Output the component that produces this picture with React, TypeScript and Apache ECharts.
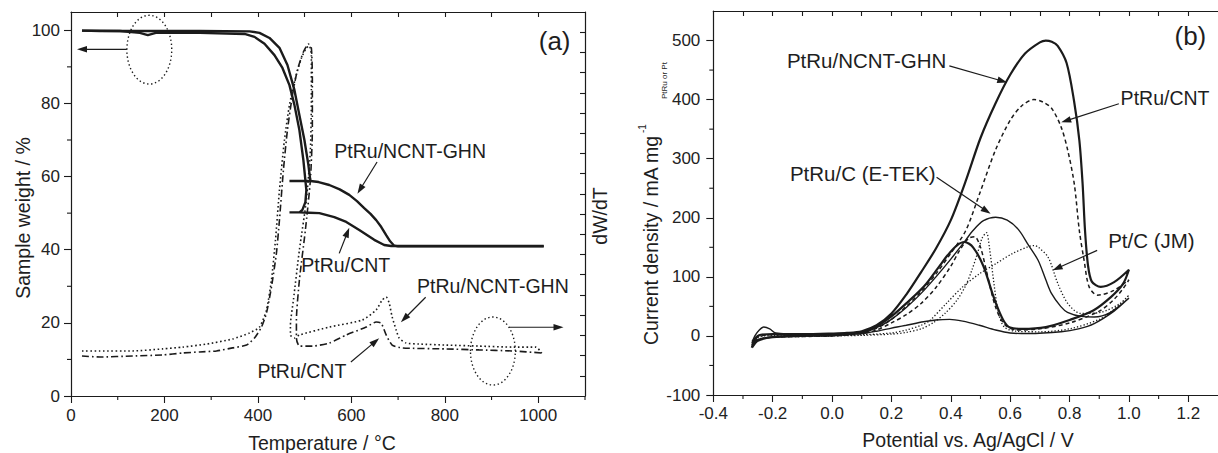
import React, { useEffect, useRef } from 'react';
import * as echarts from 'echarts';

// ---------- Panel (a): TGA (weight %) vs temperature (°C) ----------
const tgaGhnT = [23.5, 61.9, 168.6, 275.3, 382, 403.4, 424.8, 446.1, 463.2, 478.1, 488.8, 499.5, 508, 512.3, 467.5, 512.3, 530, 552.8, 575, 595.5, 612, 627.5, 641, 653.1, 664, 674.5, 683, 691.6, 700, 1011.7];
const tgaGhnW = [99.9, 99.8, 99.8, 99.8, 99.7, 99.3, 97.9, 95.2, 90.5, 83.7, 76.8, 70, 63.2, 58.8, 58.8, 58.8, 58.5, 57.7, 56.5, 55, 53.3, 51.4, 49.8, 48.1, 46.2, 44, 42.3, 41.1, 40.9, 40.9];
const tgaCntT = [23.5, 104.6, 147.3, 164.4, 181.4, 275.3, 371.4, 392.7, 414.1, 435.4, 452.5, 467.5, 478.1, 488.8, 497.3, 503.7, 501.6, 495.2, 488.8, 467.5, 488.8, 510, 531.5, 563.5, 589.1, 616.9, 648.9, 670.2, 685.2, 1011.7];
const tgaCntW = [99.9, 99.8, 99.3, 98.7, 99.3, 99.3, 99, 98.2, 96.3, 93.2, 89.7, 85, 79.6, 72.7, 64.5, 56.3, 53, 50.9, 50.2, 50.2, 50.2, 50.1, 50, 48.9, 47.6, 45.4, 42.7, 41.3, 41, 41];

// DTG (dW/dT, arbitrary units on right axis 0..19)
const dtgCntT = [23.5, 61.9, 132.3, 196.4, 239.1, 275.3, 311.6, 345.8, 375.7, 392.7, 407.7, 418.4, 429, 439.7, 446.1, 454.6, 463.2, 473.9, 484.5, 497.3, 508, 514.4, 516.5, 516.5, 512.3, 501.6, 488.8, 482.4, 482.4, 488.8, 516.5, 552.8, 589.1, 631.8, 653.1, 663.8, 674.5, 687.3, 708.6, 802.6, 872.9, 943.4, 1007.5];
const dtgCntV = [1.98, 1.93, 1.98, 2.03, 2.13, 2.18, 2.23, 2.38, 2.52, 2.87, 3.41, 4.11, 5.39, 7.08, 8.71, 11.18, 13.16, 14.89, 16.13, 17.02, 17.42, 17.22, 15.64, 13.16, 10.69, 8.21, 5.74, 3.76, 2.87, 2.47, 2.47, 2.62, 3.02, 3.41, 3.66, 3.61, 3.02, 2.52, 2.38, 2.33, 2.28, 2.23, 2.13];
const dtgGhnT = [23.5, 61.9, 132.3, 196.4, 239.1, 290.3, 345.8, 382.1, 403.4, 418.4, 429, 437.6, 446.1, 456.8, 467.5, 480.3, 493.1, 503.7, 510.1, 514.4, 514.4, 512.3, 503.7, 488.8, 476, 469.6, 469.6, 478.1, 488.8, 552.8, 623.3, 653.1, 665.9, 674.5, 680.9, 687.3, 695.8, 702.2, 717.2, 744.9, 802.6, 872.9, 943.4, 994.7, 1007.5];
const dtgGhnV = [2.23, 2.23, 2.23, 2.33, 2.42, 2.57, 2.82, 3.12, 3.41, 4.26, 5.74, 7.72, 10.19, 12.67, 14.4, 15.73, 16.72, 17.22, 17.32, 16.87, 14.65, 12.17, 9.7, 7.22, 4.75, 3.51, 3.02, 2.87, 3.02, 3.41, 3.76, 4.26, 4.75, 4.9, 4.6, 3.91, 3.27, 2.87, 2.62, 2.57, 2.52, 2.47, 2.42, 2.42, 2.13];

// ---------- Panel (b): CV current density vs potential ----------
const ghnE = [-0.27, -0.26, -0.24, -0.2, -0.1, 0.0, 0.05, 0.1, 0.15, 0.2, 0.25, 0.3, 0.35, 0.4, 0.45, 0.5, 0.55, 0.6, 0.65, 0.7, 0.72, 0.74, 0.76, 0.79, 0.815, 0.833, 0.844, 0.852, 0.862, 0.875, 0.905, 0.95, 1.0, 0.98, 0.94, 0.88, 0.8, 0.72, 0.64, 0.6, 0.58, 0.56, 0.54, 0.51, 0.475, 0.446, 0.42, 0.39, 0.36, 0.31, 0.25, 0.2, 0.15, 0.1, 0.0, -0.1, -0.2, -0.25, -0.27];
const ghnI = [-20, -5, 2, 3, 3, 4, 5, 8, 18, 38, 70, 108, 148, 196, 262, 335, 393, 442, 478, 497, 500, 498, 491, 462, 398, 331, 257, 179, 120, 92, 83, 91, 112, 88, 66, 43, 27, 15, 12, 14, 24, 45, 72, 118, 150, 159, 153, 137, 117, 84, 55, 33, 16, 6, 1, 0, -2, -8, -20];
const cntE = [-0.27, -0.25, -0.2, -0.1, 0, 0.1, 0.15, 0.2, 0.25, 0.3, 0.35, 0.4, 0.45, 0.5, 0.55, 0.6, 0.64, 0.68, 0.71, 0.74, 0.772, 0.794, 0.816, 0.833, 0.849, 0.866, 0.894, 0.949, 1.0, 0.98, 0.95, 0.9, 0.8, 0.7, 0.62, 0.58, 0.55, 0.52, 0.5, 0.48, 0.46, 0.43, 0.4, 0.35, 0.3, 0.25, 0.2, 0.15, 0.1, 0, -0.1, -0.2, -0.25, -0.27];
const cntI = [-15, -2, 2, 2, 3, 6, 13, 28, 50, 75, 105, 140, 178, 245, 314, 365, 390, 400, 396, 385, 353, 314, 257, 178, 128, 83, 69, 77, 95, 80, 62, 42, 22, 12, 10, 20, 50, 110, 150, 168, 165, 145, 118, 82, 55, 36, 22, 10, 4, 0, -1, -2, -6, -15];
const etekE = [-0.27, -0.26, -0.245, -0.23, -0.21, -0.19, -0.1, 0, 0.1, 0.15, 0.2, 0.25, 0.3, 0.35, 0.4, 0.45, 0.474, 0.51, 0.551, 0.59, 0.628, 0.66, 0.694, 0.72, 0.739, 0.77, 0.793, 0.84, 0.883, 0.938, 1.0, 0.95, 0.883, 0.83, 0.772, 0.66, 0.6, 0.551, 0.496, 0.44, 0.396, 0.35, 0.308, 0.25, 0.219, 0.15, 0.1, 0, -0.1, -0.2, -0.25, -0.27];
const etekI = [-12, 0, 10, 15, 12, 5, 3, 3, 6, 14, 28, 48, 72, 100, 130, 162, 178, 195, 201, 196, 180, 155, 128, 95, 72, 50, 40, 33, 32, 40, 64, 42, 21, 12, 7, 4, 5, 10, 18, 25, 28, 27, 24, 18, 15, 8, 4, 1, 0, -2, -6, -12];
const jmE = [-0.27, -0.25, -0.2, -0.1, 0, 0.1, 0.2, 0.25, 0.3, 0.329, 0.385, 0.44, 0.496, 0.551, 0.606, 0.661, 0.68, 0.695, 0.728, 0.761, 0.794, 0.838, 0.905, 0.971, 1.0, 0.95, 0.9, 0.8, 0.7, 0.62, 0.58, 0.56, 0.545, 0.53, 0.52, 0.505, 0.49, 0.47, 0.45, 0.42, 0.38, 0.34, 0.3, 0.25, 0.2, 0.1, 0, -0.1, -0.2, -0.27];
const jmI = [-8, -2, 1, 1, 1, 2, 5, 10, 18, 26, 55, 83, 105, 122, 139, 151, 153, 150, 133, 88, 55, 38, 40, 55, 69, 45, 28, 12, 7, 8, 15, 40, 90, 150, 175, 165, 140, 110, 85, 60, 38, 22, 12, 6, 3, 1, 0, -1, -2, -8];

// tick values
const aXMajor = [0, 200, 400, 600, 800, 1000];
const aXMinor = [100, 300, 500, 700, 900, 1100];
const aXTop = [100, 200, 300, 400, 500, 600, 700, 800, 900, 1000];
const aYMajor = [0, 20, 40, 60, 80, 100];
const aYMinor = [10, 30, 50, 70, 90];
const aYRight = [1, 2, 3, 4, 5, 6, 7, 8, 9, 10, 11, 12, 13, 14, 15, 16, 17, 18];
const bXMajor = [-0.4, -0.2, 0.0, 0.2, 0.4, 0.6, 0.8, 1.0, 1.2];
const bXMinor = [-0.3, -0.1, 0.1, 0.3, 0.5, 0.7, 0.9, 1.1];
const bXTop = [-0.3, -0.2, -0.1, 0.0, 0.1, 0.2, 0.3, 0.4, 0.5, 0.6, 0.7, 0.8, 0.9, 1.0, 1.1, 1.2];
const bYMajor = [-100, 0, 100, 200, 300, 400, 500];
const bYMinor = [-50, 50, 150, 250, 350, 450];

// annotations (data coordinates of each panel)
const annotA = {
  texts: [
    { t: 'PtRu/NCNT-GHN', x: 563.5, y: 67 },
    { t: 'PtRu/CNT', x: 493, y: 35.7 },
    { t: 'PtRu/NCNT-GHN', x: 740.7, y: 30.2 },
    { t: 'PtRu/CNT', x: 399, y: 6.9 },
  ],
  arrows: [
    [119.5, 94.8, 12.8, 94.8],
    [937, 18.8, 1054, 18.8],
    [655, 64, 613, 55.3],
    [574, 39, 595.5, 46],
    [759, 27, 706, 20.2],
    [599, 9.3, 659.5, 15.8],
  ],
  ellipses: [
    [167.6, 94.7, 48, 9.4],
    [902.9, 12.3, 48, 9.3],
  ],
};
const annotB = {
  texts: [
    { t: 'PtRu/NCNT-GHN', x: -0.152, y: 466, s: 20.5 },
    { t: 'PtRu/CNT', x: 0.972, y: 403, s: 19.5 },
    { t: 'PtRu/C (E-TEK)', x: -0.142, y: 275, s: 20.5 },
    { t: 'Pt/C (JM)', x: 0.93, y: 161.6, s: 20.5 },
  ],
  arrows: [
    [0.395, 457, 0.59, 429],
    [0.966, 393, 0.772, 361.5],
    [0.352, 268.6, 0.534, 206.8],
    [0.893, 144.8, 0.743, 111],
  ],
};

const FONT = '"Liberation Sans", Arial, Helvetica, sans-serif';
const INK = '#1b1b1b';

const zip = (xs: number[], ys: number[]) => xs.slice(0, Math.min(xs.length, ys.length)).map((x, i) => [x, ys[i]]);

function valAxis(extra: any) {
  return {
    type: 'value',
    splitLine: { show: false },
    axisLine: { show: true, onZero: false, lineStyle: { color: INK, width: 1.2 } },
    axisTick: { show: true, lineStyle: { color: INK, width: 1.1 } },
    axisLabel: { show: false, color: '#222', fontSize: 17, fontFamily: FONT },
    ...extra,
  };
}

function fmt1(v: number) {
  const r = Math.abs(v) < 1e-9 ? 0 : v;
  return r.toFixed(1);
}

const option: any = {
  animation: false,
  backgroundColor: '#ffffff',
  textStyle: { fontFamily: FONT },
  grid: [
    { left: 71, top: 12, width: 514, height: 384 },
    { left: 713.3, top: 11, width: 512.6, height: 384 },
  ],
  xAxis: [
    valAxis({ gridIndex: 0, position: 'bottom', min: 0, max: 1100,
      axisTick: { show: true, length: 7, customValues: aXMajor, lineStyle: { color: INK, width: 1.1 } },
      axisLabel: { show: true, margin: 11, customValues: aXMajor, formatter: (v: number) => String(v), color: '#222', fontSize: 17, fontFamily: FONT } }),
    valAxis({ gridIndex: 0, position: 'top', min: 0, max: 1100,
      axisTick: { show: true, inside: true, length: 5, customValues: aXTop, lineStyle: { color: INK, width: 1.1 } } }),
    valAxis({ gridIndex: 1, position: 'bottom', min: -0.4, max: 1.3,
      axisTick: { show: true, length: 7, customValues: bXMajor, lineStyle: { color: INK, width: 1.1 } },
      axisLabel: { show: true, margin: 10, customValues: bXMajor, formatter: fmt1, color: '#222', fontSize: 17, fontFamily: FONT } }),
    valAxis({ gridIndex: 1, position: 'top', min: -0.4, max: 1.3,
      axisTick: { show: true, inside: true, length: 5, customValues: bXTop, lineStyle: { color: INK, width: 1.1 } } }),
  ],
  yAxis: [
    valAxis({ gridIndex: 0, position: 'left', min: 0, max: 105,
      axisTick: { show: true, length: 7, customValues: aYMajor, lineStyle: { color: INK, width: 1.1 } },
      axisLabel: { show: true, margin: 11, customValues: aYMajor, formatter: (v: number) => String(v), color: '#222', fontSize: 17, fontFamily: FONT } }),
    valAxis({ gridIndex: 0, position: 'right', min: 0, max: 19,
      axisTick: { show: true, inside: true, length: 5, customValues: aYRight, lineStyle: { color: INK, width: 1.1 } } }),
    valAxis({ gridIndex: 1, position: 'left', min: -100, max: 550,
      axisTick: { show: true, length: 7, customValues: bYMajor, lineStyle: { color: INK, width: 1.1 } },
      axisLabel: { show: true, margin: 13, customValues: bYMajor, formatter: (v: number) => String(v), color: '#222', fontSize: 17, fontFamily: FONT } }),
  ],
  series: [
    { name: 'TGA PtRu/NCNT-GHN', type: 'line', xAxisIndex: 0, yAxisIndex: 0, data: zip(tgaGhnT, tgaGhnW),
      showSymbol: false, symbol: 'none', lineStyle: { color: INK, width: 2.4 } },
    { name: 'TGA PtRu/CNT', type: 'line', xAxisIndex: 0, yAxisIndex: 0, data: zip(tgaCntT, tgaCntW),
      showSymbol: false, symbol: 'none', lineStyle: { color: INK, width: 2.4 } },
    { name: 'DTG PtRu/NCNT-GHN', type: 'line', xAxisIndex: 0, yAxisIndex: 1, data: zip(dtgGhnT, dtgGhnV), smooth: 0.2,
      showSymbol: false, symbol: 'none', lineStyle: { color: INK, width: 1.6, type: [1.6, 2.6] } },
    { name: 'DTG PtRu/CNT', type: 'line', xAxisIndex: 0, yAxisIndex: 1, data: zip(dtgCntT, dtgCntV), smooth: 0.2,
      showSymbol: false, symbol: 'none', lineStyle: { color: INK, width: 1.6, type: [7, 3, 1.6, 3] } },
    { name: 'PtRu/NCNT-GHN', type: 'line', xAxisIndex: 2, yAxisIndex: 2, data: zip(ghnE, ghnI), smooth: 0.3,
      showSymbol: false, symbol: 'none', lineStyle: { color: INK, width: 2.2 } },
    { name: 'PtRu/CNT', type: 'line', xAxisIndex: 2, yAxisIndex: 2, data: zip(cntE, cntI), smooth: 0.3,
      showSymbol: false, symbol: 'none', lineStyle: { color: INK, width: 1.5, type: [4, 3] } },
    { name: 'PtRu/C (E-TEK)', type: 'line', xAxisIndex: 2, yAxisIndex: 2, data: zip(etekE, etekI), smooth: 0.3,
      showSymbol: false, symbol: 'none', lineStyle: { color: INK, width: 1.4 } },
    { name: 'Pt/C (JM)', type: 'line', xAxisIndex: 2, yAxisIndex: 2, data: zip(jmE, jmI), smooth: 0.3,
      showSymbol: false, symbol: 'none', lineStyle: { color: INK, width: 1.3, type: [1.3, 2] } },
  ],
};

function arrowEls(p1: number[], p2: number[]) {
  const dx = p2[0] - p1[0];
  const dy = p2[1] - p1[1];
  const L = Math.hypot(dx, dy) || 1;
  const ux = dx / L;
  const uy = dy / L;
  const hl = 10;
  const hw = 3.3;
  const bx = p2[0] - ux * hl;
  const by = p2[1] - uy * hl;
  return [
    { type: 'line', silent: true, z: 50, shape: { x1: p1[0], y1: p1[1], x2: bx + ux * 2, y2: by + uy * 2 }, style: { stroke: INK, lineWidth: 1.2 } },
    { type: 'polygon', silent: true, z: 50, shape: { points: [[p2[0], p2[1]], [bx - uy * hw, by + ux * hw], [bx + uy * hw, by - ux * hw]] }, style: { fill: INK } },
  ];
}

function tickEl(p: number[], dx: number, dy: number) {
  return { type: 'line', silent: true, z: 40, shape: { x1: p[0], y1: p[1], x2: p[0] + dx, y2: p[1] + dy }, style: { stroke: INK, lineWidth: 1.1 } };
}

function textEl(t: string, x: number, y: number, size: number, extra: any = {}) {
  return {
    type: 'text', silent: true, z: 50, x, y, ...extra,
    style: { text: t, fill: '#1e1e1e', fontSize: size, fontFamily: FONT, align: 'left', verticalAlign: 'middle', ...(extra.style || {}) },
  };
}

export default function App() {
  const ref = useRef<HTMLDivElement>(null);
  useEffect(() => {
    document.body.style.margin = '0';
    const chart = echarts.init(ref.current!, null, { renderer: 'svg' });
    chart.setOption(option);
    const pa = (x: number, y: number) => chart.convertToPixel({ xAxisIndex: 0, yAxisIndex: 0 } as any, [x, y]) as number[];
    const pb = (x: number, y: number) => chart.convertToPixel({ xAxisIndex: 2, yAxisIndex: 2 } as any, [x, y]) as number[];
    const els: any[] = [];
    // minor ticks (outward, shorter than the major ones)
    aXMinor.forEach((v) => els.push(tickEl(pa(v, 0), 0, 4)));
    aYMinor.forEach((v) => els.push(tickEl(pa(0, v), -4, 0)));
    bXMinor.forEach((v) => els.push(tickEl(pb(v, -100), 0, 4)));
    bYMinor.forEach((v) => els.push(tickEl(pb(-0.4, v), -4, 0)));
    annotA.texts.forEach((a) => { const p = pa(a.x, a.y); els.push(textEl(a.t, p[0], p[1], 19.5)); });
    annotA.arrows.forEach((a) => { els.push(...arrowEls(pa(a[0], a[1]), pa(a[2], a[3]))); });
    annotA.ellipses.forEach((e) => {
      const c = pa(e[0], e[1]);
      const rx = Math.abs(pa(e[0] + e[2], e[1])[0] - c[0]);
      const ry = Math.abs(pa(e[0], e[1] + e[3])[1] - c[1]);
      els.push({ type: 'ellipse', silent: true, z: 50, shape: { cx: c[0], cy: c[1], rx, ry }, style: { fill: 'none', stroke: INK, lineWidth: 1.4, lineDash: [1.4, 2.6] } });
    });
    annotB.texts.forEach((a) => { const p = pb(a.x, a.y); els.push(textEl(a.t, p[0], p[1], a.s)); });
    annotB.arrows.forEach((a) => { els.push(...arrowEls(pb(a[0], a[1]), pb(a[2], a[3]))); });
    // panel tags
    const ta = pa(1035, 97);
    els.push(textEl('(a)', ta[0], ta[1], 26, { style: { align: 'center' } }));
    const tb = pb(1.207, 508);
    els.push(textEl('(b)', tb[0], tb[1], 26, { style: { align: 'center' } }));
    // axis titles
    els.push(textEl('Temperature / °C', 322, 443, 19.5, { style: { align: 'center' } }));
    els.push(textEl('Potential vs. Ag/AgCl / V', 968, 440, 19.5, { style: { align: 'center' } }));
    els.push(textEl('Sample weight / %', 23, 218, 19.5, { rotation: Math.PI / 2, style: { align: 'center' } }));
    els.push(textEl('dW/dT', 600, 216, 19.5, { rotation: Math.PI / 2, style: { align: 'center' } }));
    els.push({
      type: 'group', x: 651, y: 345, rotation: Math.PI / 2, silent: true, z: 50,
      children: [
        { type: 'text', x: 0, y: 0, style: { text: 'Current density / mA mg', fill: '#1e1e1e', fontSize: 19.5, fontFamily: FONT, align: 'left', verticalAlign: 'middle' } },
        { type: 'text', x: 212, y: -9, style: { text: '-1', fill: '#1e1e1e', fontSize: 10, fontFamily: FONT, align: 'left', verticalAlign: 'middle' } },
        { type: 'text', x: 246, y: 13, style: { text: 'PtRu or Pt', fill: '#1e1e1e', fontSize: 8, fontFamily: FONT, align: 'left', verticalAlign: 'middle' } },
      ],
    });
    chart.setOption({ graphic: els });
    return () => chart.dispose();
  }, []);
  return <div ref={ref} style={{ width: 1218, height: 453 }} />;
}
